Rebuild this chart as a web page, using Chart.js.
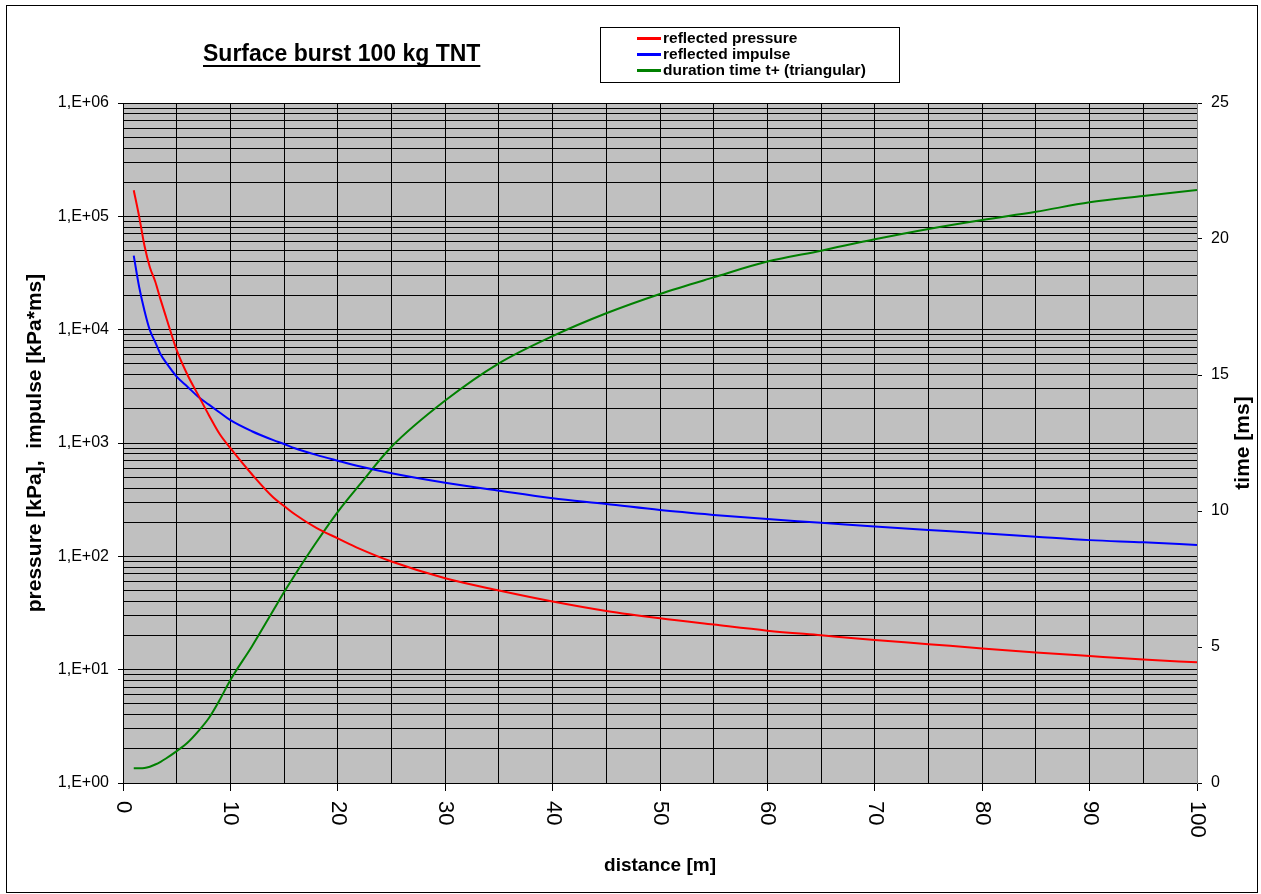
<!DOCTYPE html>
<html>
<head>
<meta charset="utf-8">
<title>Surface burst 100 kg TNT</title>
<script src="https://cdn.jsdelivr.net/npm/chart.js@4.4.1/dist/chart.umd.min.js"></script>
<style>
  body { margin: 0; background: #fff; }
  canvas { display: block; }
</style>
</head>
<body>
<canvas id="chart" width="1261" height="894"></canvas>
<script>
// distance [m]
const distance = [1, 1.5, 2, 2.5, 3, 3.5, 4, 5, 6, 7, 8, 9, 10, 12, 14, 15, 16, 18, 20, 22, 25, 30, 35, 40, 45, 50, 55, 60, 65, 70, 75, 80, 85, 90, 95, 100];
// reflected pressure [kPa]
const reflectedPressure = [170000, 100000, 55000, 35600, 26600, 18400, 13000, 6600, 4000, 2650, 1760, 1200, 900, 530, 330, 278, 235, 178, 144, 117, 90, 64, 50, 40, 33, 28.4, 25, 22.1, 20.1, 18.3, 16.8, 15.4, 14.2, 13.2, 12.3, 11.6];
// reflected impulse [kPa*ms]
const reflectedImpulse = [45000, 23900, 14700, 9900, 7760, 6070, 5140, 3850, 3140, 2560, 2180, 1860, 1590, 1270, 1060, 980, 900, 785, 698, 624, 541, 446, 379, 325, 290, 256, 232, 213, 198, 183, 171, 160, 149, 139, 133, 126];
// duration time t+ [ms]
const durationTime = [0.54, 0.54, 0.55, 0.6, 0.68, 0.78, 0.9, 1.17, 1.48, 1.9, 2.39, 3.05, 3.79, 5.02, 6.35, 7.02, 7.65, 8.85, 9.97, 10.95, 12.36, 14.06, 15.43, 16.43, 17.27, 17.98, 18.59, 19.17, 19.57, 19.99, 20.37, 20.70, 21.0, 21.35, 21.58, 21.8];

const seriesNames = ['reflected pressure', 'reflected impulse', 'duration time t+ (triangular)'];
const seriesColors = ['#ff0000', '#0000ff', '#008000'];

const xGridValues = [0, 5, 10, 15, 20, 25, 30, 35, 40, 45, 50, 55, 60, 65, 70, 75, 80, 85, 90, 95, 100];
const xTickLabels = [0, 10, 20, 30, 40, 50, 60, 70, 80, 90, 100];
const yDecades = [1, 10, 100, 1000, 10000, 100000, 1000000];
const yTickLabels = ['1,E+00', '1,E+01', '1,E+02', '1,E+03', '1,E+04', '1,E+05', '1,E+06'];
const yMinorSteps = [1, 2, 3, 4, 5, 6, 7, 8, 9];
const y1TickLabels = [0, 5, 10, 15, 20, 25];

const FONT = '"Liberation Sans", Arial, sans-serif';

function points(values) {
  return distance.map((d, i) => ({ x: d, y: values[i] }));
}

// log grid: 1..9 in every decade
const yGridValues = [];
yDecades.slice(0, -1).forEach(dec => {
  yMinorSteps.forEach(s => yGridValues.push(s * dec));
});
yGridValues.push(yDecades[yDecades.length - 1]);

function isDecade(v) {
  return yDecades.indexOf(v) !== -1;
}

const decorPlugin = {
  id: 'decor',
  beforeDraw(chart) {
    const ctx = chart.ctx;
    const a = chart.chartArea;
    ctx.save();
    ctx.fillStyle = '#ffffff';
    ctx.fillRect(0, 0, chart.width, chart.height);
    ctx.fillStyle = '#c0c0c0';
    ctx.fillRect(a.left, a.top, a.right - a.left, a.bottom - a.top);
    ctx.restore();
  },
  afterDraw(chart) {
    const ctx = chart.ctx;
    const xs = chart.scales.x;
    ctx.save();

    // outer frame
    ctx.strokeStyle = '#000';
    ctx.lineWidth = 1;
    ctx.strokeRect(6.5, 5.5, 1251, 887);

    // x tick labels, turned clockwise
    ctx.fillStyle = '#000';
    ctx.font = '22px ' + FONT;
    ctx.textAlign = 'left';
    ctx.textBaseline = 'middle';
    xTickLabels.forEach(v => {
      const px = xs.getPixelForValue(v);
      ctx.save();
      ctx.translate(px, 801);
      ctx.rotate(Math.PI / 2);
      ctx.fillText(String(v), 0, 0);
      ctx.restore();
    });

    // right axis title
    ctx.save();
    ctx.font = 'bold 21px ' + FONT;
    ctx.textAlign = 'center';
    ctx.translate(1243, (chart.chartArea.top + chart.chartArea.bottom) / 2);
    ctx.rotate(-Math.PI / 2);
    ctx.fillText('time [ms]', 0, 0);
    ctx.restore();

    // title, underlined
    const title = 'Surface burst 100 kg TNT';
    ctx.font = 'bold 23px ' + FONT;
    ctx.textBaseline = 'alphabetic';
    ctx.fillText(title, 203, 61);
    const w = ctx.measureText(title).width;
    ctx.fillRect(203, 65, w, 2);

    // legend box
    ctx.strokeRect(600.5, 27.5, 299, 55);
    ctx.font = 'bold 15.5px ' + FONT;
    ctx.textBaseline = 'middle';
    chart.data.datasets.forEach((ds, i) => {
      const y = 38.5 + i * 16;
      ctx.strokeStyle = ds.borderColor;
      ctx.lineWidth = 3;
      ctx.beginPath();
      ctx.moveTo(637, y);
      ctx.lineTo(661, y);
      ctx.stroke();
      ctx.fillStyle = '#000';
      ctx.fillText(ds.label, 663, y + 0.5);
    });
    ctx.restore();
  }
};

const chart = new Chart(document.getElementById('chart'), {
  type: 'line',
  data: {
    datasets: [{
      label: seriesNames[0],
      data: points(reflectedPressure),
      borderColor: seriesColors[0],
      yAxisID: 'y'
    }, {
      label: seriesNames[1],
      data: points(reflectedImpulse),
      borderColor: seriesColors[1],
      yAxisID: 'y'
    }, {
      label: seriesNames[2],
      data: points(durationTime),
      borderColor: seriesColors[2],
      yAxisID: 'y1'
    }]
  },
  options: {
    responsive: false,
    devicePixelRatio: 1,
    animation: false,
    layout: { padding: { top: 103, left: 0, right: 0, bottom: 0 } },
    elements: {
      point: { radius: 0 },
      line: { borderWidth: 2, cubicInterpolationMode: 'monotone', fill: false }
    },
    plugins: {
      legend: { display: false },
      title: { display: false },
      tooltip: { enabled: false }
    },
    scales: {
      x: {
        type: 'linear',
        min: 0,
        max: 100,
        afterBuildTicks: s => { s.ticks = xGridValues.map(v => ({ value: v })); },
        afterFit: s => { s.height = 111; },
        ticks: { display: false, autoSkip: false },
        grid: {
          color: '#000',
          lineWidth: 1,
          tickLength: 8,
          tickColor: c => (c.tick && c.tick.value % 10 === 0) ? '#000' : 'rgba(0,0,0,0)'
        },
        border: { color: '#000' },
        title: {
          display: true,
          text: 'distance [m]',
          color: '#000',
          font: { family: FONT, size: 19, weight: 'bold' },
          padding: { top: 0, bottom: 17 }
        }
      },
      y: {
        type: 'logarithmic',
        position: 'left',
        min: 1,
        max: 1000000,
        afterBuildTicks: s => { s.ticks = yGridValues.map(v => ({ value: v })); },
        afterFit: s => { s.width = 123; },
        ticks: {
          autoSkip: false,
          color: '#000',
          padding: 9,
          font: { family: FONT, size: 16 },
          callback: v => isDecade(v) ? yTickLabels[yDecades.indexOf(v)] : ''
        },
        grid: {
          color: '#000',
          lineWidth: 1,
          tickLength: 5,
          tickColor: c => (c.tick && isDecade(c.tick.value)) ? '#000' : 'rgba(0,0,0,0)'
        },
        border: { color: '#000' },
        title: {
          display: true,
          text: 'pressure [kPa],  impulse [kPa*ms]',
          color: '#000',
          font: { family: FONT, size: 21, weight: 'bold' },
          padding: { top: 23, bottom: 0 }
        }
      },
      y1: {
        type: 'linear',
        position: 'right',
        min: 0,
        max: 25,
        afterBuildTicks: s => { s.ticks = y1TickLabels.map(v => ({ value: v })); },
        afterFit: s => { s.width = 64; },
        ticks: {
          autoSkip: false,
          color: '#000',
          padding: 9,
          font: { family: FONT, size: 16 }
        },
        grid: {
          drawOnChartArea: false,
          tickLength: 5,
          tickColor: '#000'
        },
        border: { color: '#808080' }
      }
    }
  },
  plugins: [decorPlugin]
});
</script>
</body>
</html>
